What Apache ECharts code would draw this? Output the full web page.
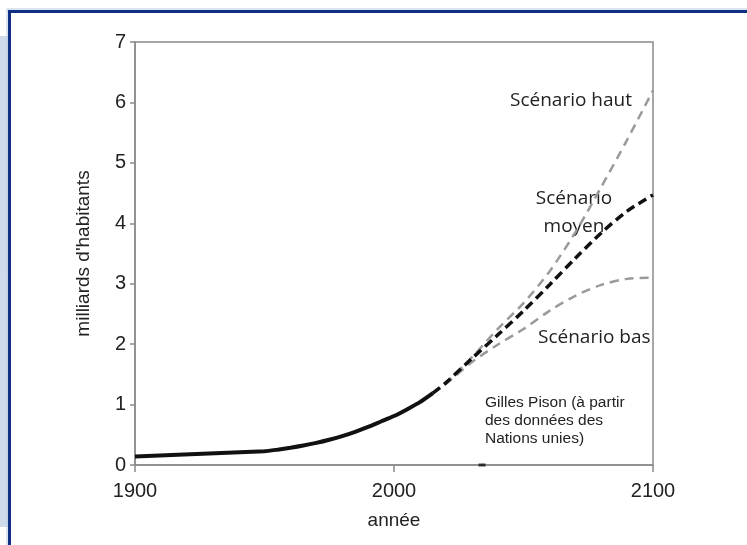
<!DOCTYPE html>
<html><head><meta charset="utf-8">
<script src="https://cdn.jsdelivr.net/npm/echarts@6/dist/echarts.min.js"></script>
<style>html,body{margin:0;padding:0;background:#fff}#c{width:747px;height:545px}</style>
</head><body><div id="c"></div>
<script>
const histYears = [1900,1950,1955,1960,1965,1970,1975,1980,1985,1990,1995,2000,2005,2010,2015];
const histVals  = [0.14,0.228,0.254,0.285,0.322,0.366,0.418,0.478,0.55,0.63,0.72,0.81,0.92,1.04,1.19];
const projYears = [2015,2020,2030,2040,2050,2060,2070,2080,2090,2100];
const highVals  = [1.19,1.36,1.78,2.25,2.68,3.2,3.85,4.6,5.38,6.2];
const midVals   = [1.19,1.36,1.76,2.15,2.55,2.98,3.42,3.84,4.2,4.47];
const lowVals   = [1.19,1.34,1.7,1.99,2.25,2.55,2.8,2.98,3.08,3.1];
const xTicks = [1900,2000,2100];
const yTicks = [0,1,2,3,4,5,6,7];
const markX = [2034], markY = [0];

const zip = (a,b)=>a.map((v,i)=>[v,b[i]]);
const chart = echarts.init(document.getElementById('c'), null, {renderer:'canvas'});
const ff = '"Liberation Sans", Arial, sans-serif';
const ff2 = '"Open Sans", "Noto Sans", sans-serif';
chart.setOption({
  animation:false,
  backgroundColor:'#fff',
  grid:{left:135, right:94, top:42, bottom:80, show:true, borderColor:'#8a8a8a', borderWidth:1.5, backgroundColor:'transparent'},
  xAxis:{type:'value', min:xTicks[0], max:xTicks[xTicks.length-1], interval:100,
    name:'année', nameLocation:'middle', nameGap:46,
    nameTextStyle:{fontFamily:ff, fontSize:19, color:'#222'},
    axisLine:{show:true, lineStyle:{color:'#8a8a8a', width:1.5}},
    axisTick:{show:true, length:7, lineStyle:{color:'#8a8a8a', width:1.5}},
    axisLabel:{fontFamily:ff, fontSize:20, color:'#222', margin:16, formatter:v=>String(v)},
    splitLine:{show:false}},
  yAxis:{type:'value', min:yTicks[0], max:yTicks[yTicks.length-1], interval:1,
    name:"milliards d'habitants", nameLocation:'middle', nameGap:42,
    nameTextStyle:{fontFamily:ff, fontSize:19, color:'#222'},
    axisLine:{show:true, lineStyle:{color:'#8a8a8a', width:1.5}},
    axisTick:{show:true, length:5, lineStyle:{color:'#8a8a8a', width:1.5}},
    axisLabel:{fontFamily:ff, fontSize:20, color:'#222', margin:9},
    splitLine:{show:false}},
  series:[
    {type:'line', data:zip(projYears,highVals), smooth:0.3, showSymbol:false,
      lineStyle:{color:'#9a9a9a', width:2.5, type:[9,6]}, z:2},
    {type:'line', data:zip(projYears,lowVals), smooth:0.3, showSymbol:false,
      lineStyle:{color:'#9a9a9a', width:2.5, type:[9,6]}, z:2},
    {type:'line', data:zip(projYears,midVals), smooth:0.3, showSymbol:false,
      lineStyle:{color:'#111', width:3.5, type:[9,5]}, z:3},
    {type:'line', data:zip(histYears,histVals), smooth:0.2, showSymbol:false,
      lineStyle:{color:'#111', width:4}, z:4},
    {type:'scatter', data:zip(markX,markY), symbol:'rect', symbolSize:[7,3],
      itemStyle:{color:'#111'}, z:5}
  ],
  graphic:[
    {type:'rect', shape:{x:0,y:36,width:8,height:491}, style:{fill:'#cfdbea'}, z:-1},
    {type:'rect', shape:{x:7,y:9,width:760,height:560}, style:{fill:'none', stroke:'#b9c9e0', lineWidth:1}, z:9},
    {type:'rect', shape:{x:9.5,y:11.5,width:760,height:560}, style:{fill:'none', stroke:'#0e2f84', lineWidth:3}, z:10},
    {type:'text', x:510, y:101, style:{text:'Scénario haut', font:'19px '+ff2, fill:'#222', verticalAlign:'middle'}},
    {type:'text', x:574, y:213, style:{text:'Scénario\nmoyen', font:'19px '+ff2, fill:'#222', align:'center', verticalAlign:'middle', lineHeight:28}},
    {type:'text', x:538, y:338, style:{text:'Scénario bas', font:'19px '+ff2, fill:'#222', verticalAlign:'middle'}},
    {type:'text', x:485, y:421, style:{text:'Gilles Pison (à partir\ndes données des\nNations unies)', font:'15.5px '+ff, fill:'#222', lineHeight:18, verticalAlign:'middle'}}
  ]
});
</script></body></html>
